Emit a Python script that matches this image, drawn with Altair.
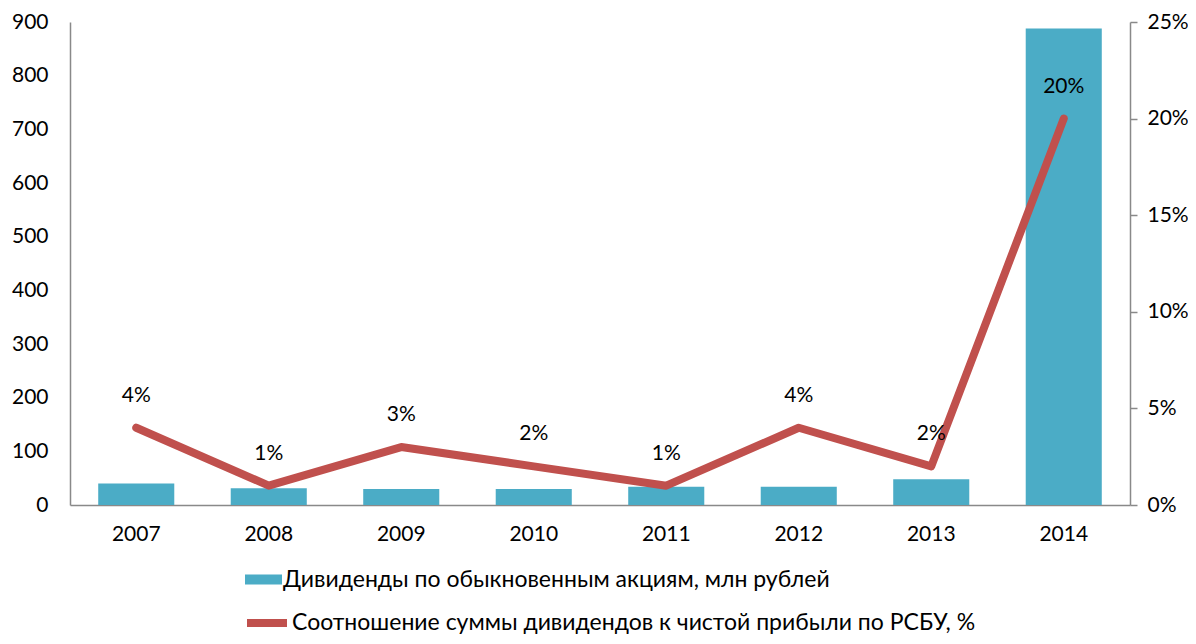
import altair as alt
import pandas as pd

years = ["2007", "2008", "2009", "2010", "2011", "2012", "2013", "2014"]
dividends = [40, 31, 30, 30, 34, 34, 48, 888]
ratio = [0.04, 0.01, 0.03, 0.02, 0.01, 0.04, 0.02, 0.20]
ratio_labels = ["4%", "1%", "3%", "2%", "1%", "4%", "2%", "20%"]
left_ticks = [0, 100, 200, 300, 400, 500, 600, 700, 800, 900]
right_ticks = [0, 0.05, 0.10, 0.15, 0.20, 0.25]
bar_name = "Дивиденды по обыкновенным акциям, млн рублей"
line_name = "Соотношение суммы дивидендов к чистой прибыли по РСБУ, %"

df = pd.DataFrame({"year": years, "div": dividends, "ratio": ratio, "lab": ratio_labels,
                   "bs": [bar_name] * len(years), "ls": [line_name] * len(years)})

FONT = "Lato"
GRAY = "#898989"
FS = 21
LFS = 23

x = alt.X("year:N", title=None,
          scale=alt.Scale(paddingInner=0.426, paddingOuter=0.213),
          axis=alt.Axis(labelAngle=0, ticks=False, labelPadding=18, domainColor=GRAY,
                        domainWidth=1.5, labelFont=FONT, labelFontSize=FS, labelColor="#000"))

base = alt.Chart(df).encode(x=x)

bars = base.mark_bar(color="#4BACC6").encode(
    y=alt.Y("div:Q", title=None, scale=alt.Scale(domain=[0, 900], nice=False),
            axis=alt.Axis(values=left_ticks, ticks=False, grid=False, labelPadding=22,
                          domainColor=GRAY, domainWidth=1.5, labelFont=FONT,
                          labelFontSize=FS, labelColor="#000")),
    color=alt.Color("bs:N", scale=alt.Scale(domain=[bar_name], range=["#4BACC6"]),
                    legend=alt.Legend(orient="none", legendX=175, legendY=539, title=None,
                                      symbolType="M-1,-0.27H1V0.27H-1Z", symbolSize=1369,
                                      symbolStrokeWidth=0, labelFont=FONT, labelFontSize=LFS,
                                      labelColor="#000", labelOffset=1, padding=0,
                                      labelLimit=0)),
)

yr = alt.Y("ratio:Q", title=None, scale=alt.Scale(domain=[0, 0.25], nice=False),
           axis=alt.Axis(orient="right", values=right_ticks, format=".0%", grid=False,
                         tickSize=7, tickColor=GRAY, tickWidth=1.5, labelPadding=10,
                         domainColor=GRAY, domainWidth=1.5, labelFont=FONT,
                         labelFontSize=FS, labelColor="#000"))

line_base = base.encode(y=yr)

line = line_base.mark_line(strokeWidth=8, strokeCap="round", strokeJoin="round").encode(
    stroke=alt.Stroke("ls:N", scale=alt.Scale(domain=[line_name], range=["#C0504D"]),
                      legend=alt.Legend(orient="none", legendX=173, legendY=577, title=None,
                                        symbolType="stroke", symbolSize=1600,
                                        symbolStrokeWidth=8, labelFont=FONT, labelFontSize=LFS,
                                        labelColor="#000", labelOffset=1, padding=0,
                                        labelLimit=0)),
)

texts = line_base.mark_text(dy=-32, font=FONT, fontSize=FS, color="#000").encode(
    text="lab:N",
)

chart = alt.layer(bars, alt.layer(line, texts)).resolve_scale(
    y="independent", color="independent", stroke="independent"
).properties(
    width=1060, height=483,
    autosize=alt.AutoSizeParams(type="none"),
    padding={"left": 62, "top": 14, "right": 58, "bottom": 131},
).configure_view(stroke=None)

chart.save("out.html", embed_options={"renderer": "svg", "actions": False})
